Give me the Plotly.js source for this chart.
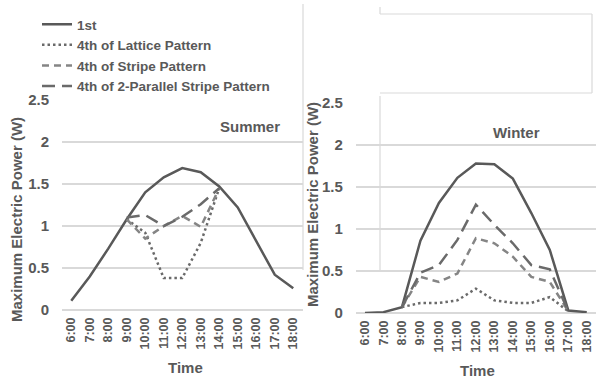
<!DOCTYPE html>
<html>
<head>
<meta charset="utf-8">
<script src="https://cdn.plot.ly/plotly-3.0.1.min.js"></script>
<style>html,body{margin:0;padding:0;background:#fff;}#chart{width:596px;height:379px;}</style>
</head>
<body>
<div id="chart"></div>
<script>
// ---- data ----
const times = ['6:00','7:00','8:00','9:00','10:00','11:00','12:00','13:00','14:00','15:00','16:00','17:00','18:00'];
const seriesNames = ['1st','4th of Lattice Pattern','4th of Stripe Pattern','4th of 2-Parallel Stripe Pattern'];

const summer1st      = [0.11,0.40,0.73,1.08,1.40,1.58,1.69,1.64,1.47,1.22,0.82,0.42,0.26];
const summerLattice  = [null,null,null,1.08,0.92,0.38,0.38,0.80,1.45,null,null,null,null];
const summerStripe   = [null,null,null,1.08,0.85,1.00,1.12,0.99,1.45,null,null,null,null];
const summerParallel = [null,null,null,1.10,1.13,1.00,1.11,1.26,1.45,null,null,null,null];

const winter1st      = [0.00,0.01,0.07,0.86,1.31,1.61,1.78,1.77,1.60,1.19,0.75,0.03,0.01];
const winterLattice  = [null,null,0.07,0.12,0.12,0.15,0.29,0.15,0.12,0.12,0.19,0.02,null];
const winterStripe   = [null,null,0.07,0.43,0.37,0.47,0.89,0.83,0.67,0.43,0.37,0.02,null];
const winterParallel = [null,null,0.07,0.48,0.57,0.87,1.29,1.05,0.83,0.57,0.52,0.02,null];

const yTicks = [0,0.5,1,1.5,2,2.5];
const yTickText = ['0','0.5','1','1.5','2','2.5'];

// ---- styles ----
const W = 596, H = 379;
const px = v => v / W;
const py = v => 1 - v / H;
const txt = '#595959';
const grid = '#d9d9d9';
const FONT = 'Liberation Sans, Arial, sans-serif';
const styles = [
  {color:'#595959', width:2.5, dash:'solid'},
  {color:'#6a6a6a', width:2.5, dash:'2.5px,3px'},
  {color:'#858585', width:2.5, dash:'7px,5px'},
  {color:'#6a6a6a', width:2.5, dash:'13px,7px'}
];

const summerSets = [summer1st, summerLattice, summerStripe, summerParallel];
const winterSets = [winter1st, winterLattice, winterStripe, winterParallel];

const traces = [];
summerSets.forEach((d,i)=>traces.push({
  x: times, y: d, type:'scatter', mode:'lines', name: seriesNames[i],
  legendgroup: 'g'+i, line: styles[i], xaxis:'x', yaxis:'y', connectgaps:false
}));
winterSets.forEach((d,i)=>traces.push({
  x: times, y: d, type:'scatter', mode:'lines', name: seriesNames[i],
  legendgroup: 'g'+i, showlegend:false, line: styles[i], xaxis:'x2', yaxis:'y2', connectgaps:false
}));

const xCommon = {
  type:'category', categoryorder:'array', categoryarray: times,
  range:[-0.5,12.5], tickangle:-90, showgrid:false, zeroline:false, showline:false,
  ticks:'', ticklabelstandoff:4, fixedrange:true,
  tickfont:{family:FONT, size:12.5, color:txt, weight:'bold'}
};
const yCommon = {
  range:[0,2.5], tickvals:yTicks, ticktext:yTickText, showgrid:true, gridcolor:grid, gridwidth:1.5,
  zeroline:true, zerolinecolor:grid, zerolinewidth:1.5, showline:false, ticks:'',
  ticklabelstandoff:12, fixedrange:true,
  tickfont:{family:FONT, size:15, color:txt, weight:'bold'}
};

const lineShape = (x0,y0,x1,y1)=>({type:'line', xref:'paper', yref:'paper',
  x0:px(x0), y0:py(y0), x1:px(x1), y1:py(y1), line:{color:grid, width:1.2}});

const ann = (text,x,y,size,angle)=>({text:text, xref:'paper', yref:'paper', x:px(x), y:py(y),
  xanchor:'center', yanchor:'middle', showarrow:false, textangle:angle||0,
  font:{family:FONT, size:size, color:txt, weight:'bold'}});

const layout = {
  width: W, height: H,
  margin:{l:0,r:0,t:0,b:0},
  paper_bgcolor:'#fff', plot_bgcolor:'#fff',
  showlegend:true,
  legend:{x:px(37), y:py(9), xanchor:'left', yanchor:'top', bgcolor:'rgba(0,0,0,0)',
    borderwidth:0, tracegroupgap:0, traceorder:'normal',
    font:{family:FONT, size:13.5, color:txt, weight:'bold'}},
  xaxis: Object.assign({}, xCommon, {domain:[px(62), px(302.5)], anchor:'y'}),
  yaxis: Object.assign({}, yCommon, {domain:[py(310), py(100)], anchor:'x'}),
  xaxis2: Object.assign({}, xCommon, {domain:[px(355.75), 1], anchor:'y2'}),
  yaxis2: Object.assign({}, yCommon, {domain:[py(313), py(103)], anchor:'x2'}),
  shapes:[
    lineShape(303,4,303,270),
    lineShape(380,7,380,14),
    lineShape(380,14,592,14),
    lineShape(592,14,592,93),
    lineShape(380,93,592,93),
    lineShape(380,96,380,270)
  ],
  annotations:[
    ann('Summer',250,126,15),
    ann('Winter',516,133,15),
    ann('Time',185,367,15),
    ann('Time',477,370,15),
    ann('Maximum Electric Power (W)',16,220,15,-90),
    ann('Maximum Electric Power (W)',312,205,15,-90)
  ]
};

Plotly.newPlot('chart', traces, layout, {staticPlot:true, displayModeBar:false});
</script>
</body>
</html>
